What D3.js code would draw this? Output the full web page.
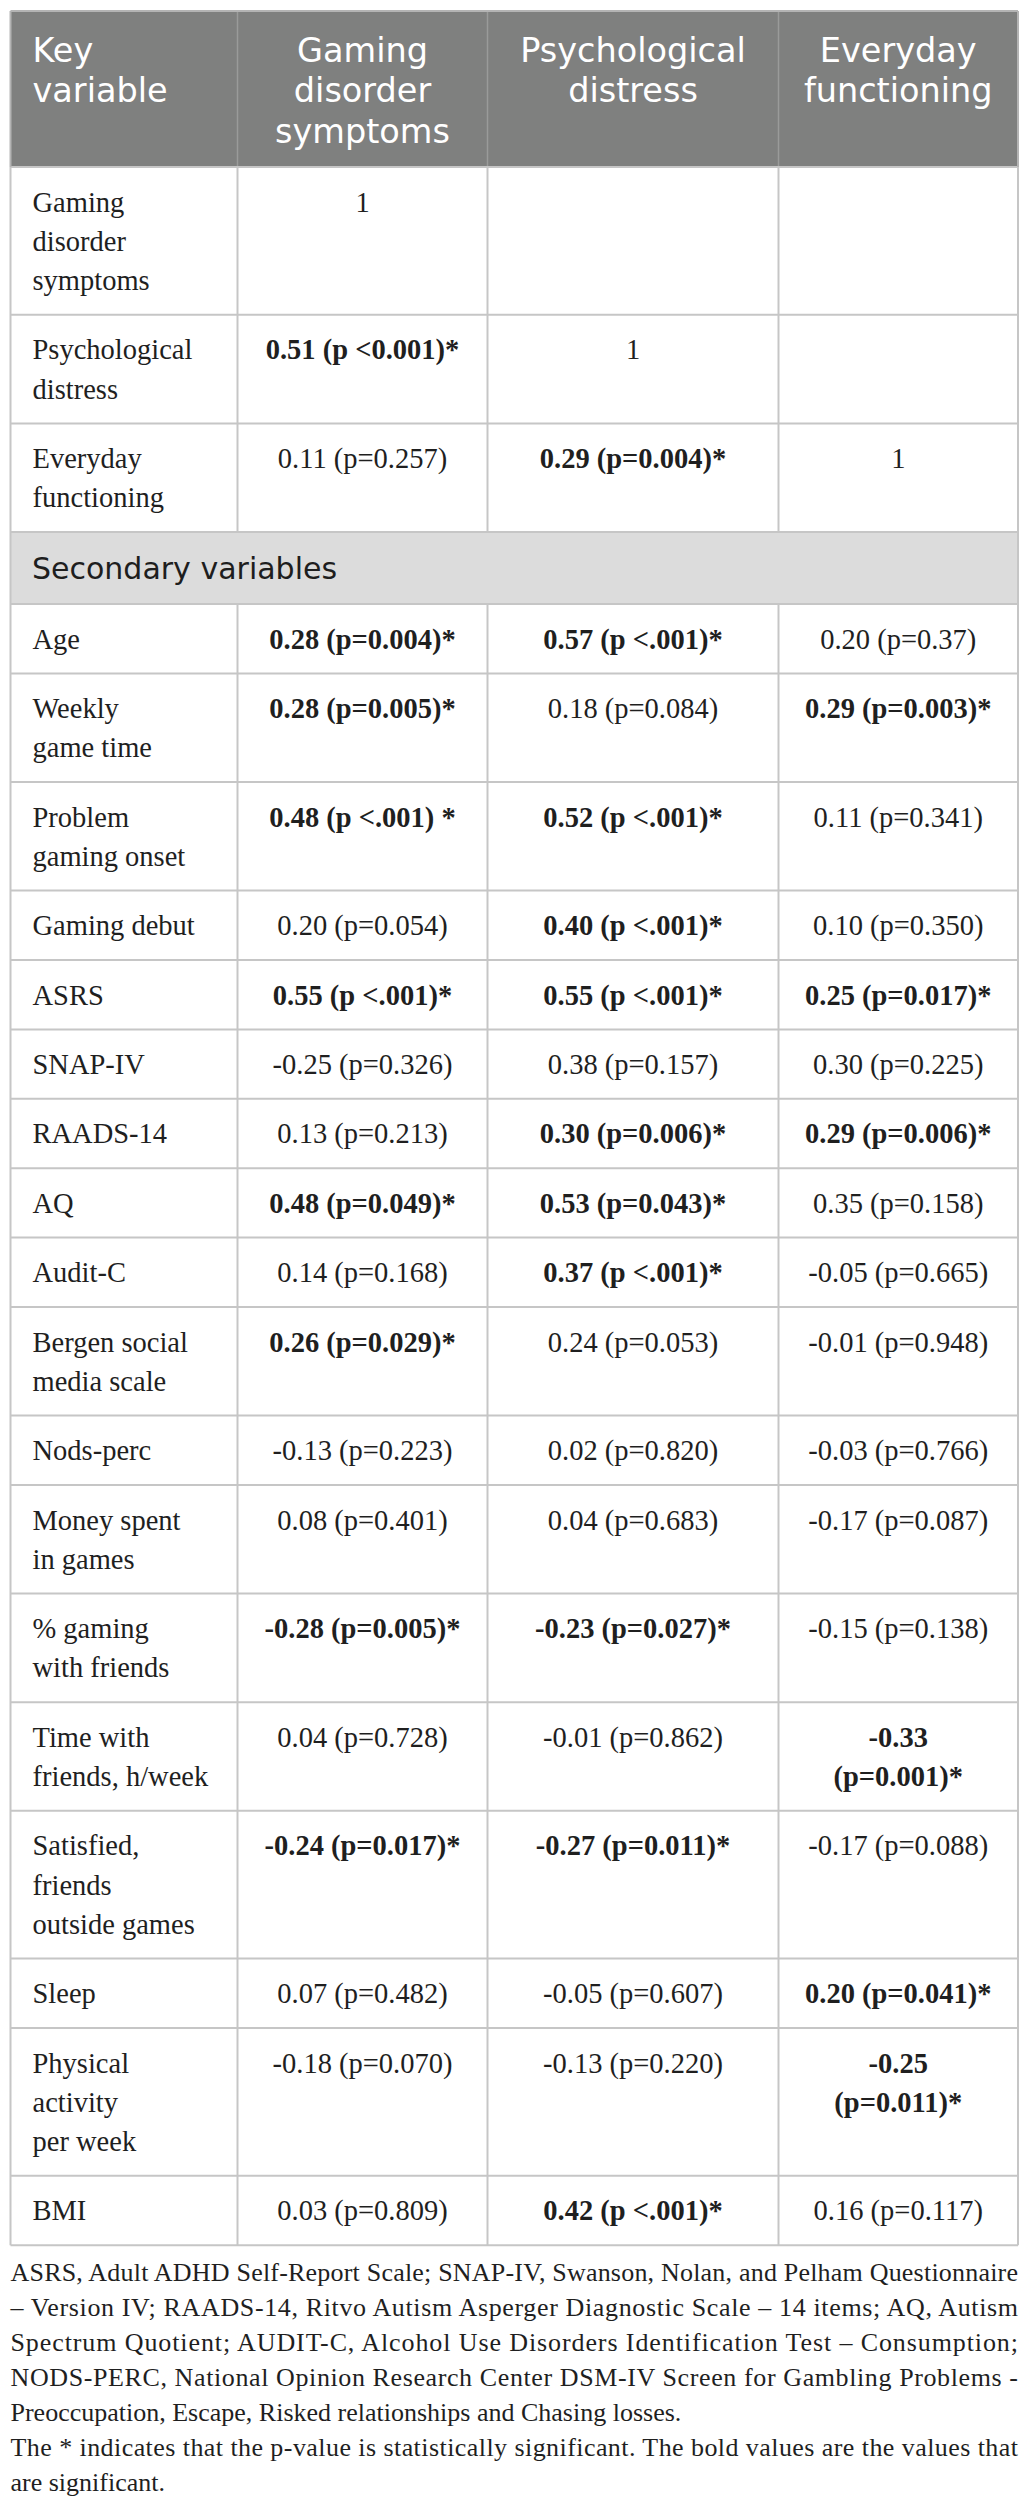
<!DOCTYPE html>
<html>
<head>
<meta charset="utf-8">
<script src="https://cdn.jsdelivr.net/npm/d3@7"></script>
<style>
  html, body { margin: 0; padding: 0; background: #ffffff; }
  svg { display: block; }
</style>
</head>
<body>
<div id="chart"></div>
<script>
// ---------------- DATA ----------------
const columnHeaders = [["Key", "variable"], ["Gaming", "disorder", "symptoms"], ["Psychological", "distress"], ["Everyday", "functioning"]];

const keyVariables = [["Gaming", "disorder", "symptoms"], ["Psychological", "distress"], ["Everyday", "functioning"]];
const keyGaming = ["1", "0.51 (p <0.001)*", "0.11 (p=0.257)"];
const keyDistress = ["", "1", "0.29 (p=0.004)*"];
const keyFunctioning = ["", "", "1"];

const sectionLabel = "Secondary variables";

const secondaryVariables = [
  ["Age"], ["Weekly", "game time"], ["Problem", "gaming onset"], ["Gaming debut"], ["ASRS"],
  ["SNAP-IV"], ["RAADS-14"], ["AQ"], ["Audit-C"], ["Bergen social", "media scale"], ["Nods-perc"],
  ["Money spent", "in games"], ["% gaming", "with friends"], ["Time with", "friends, h/week"],
  ["Satisfied,", "friends", "outside games"], ["Sleep"], ["Physical", "activity", "per week"], ["BMI"]
];
const secGaming = ["0.28 (p=0.004)*", "0.28 (p=0.005)*", "0.48 (p <.001) *", "0.20 (p=0.054)", "0.55 (p <.001)*",
  "-0.25 (p=0.326)", "0.13 (p=0.213)", "0.48 (p=0.049)*", "0.14 (p=0.168)", "0.26 (p=0.029)*", "-0.13 (p=0.223)",
  "0.08 (p=0.401)", "-0.28 (p=0.005)*", "0.04 (p=0.728)", "-0.24 (p=0.017)*", "0.07 (p=0.482)", "-0.18 (p=0.070)", "0.03 (p=0.809)"];
const secDistress = ["0.57 (p <.001)*", "0.18 (p=0.084)", "0.52 (p <.001)*", "0.40 (p <.001)*", "0.55 (p <.001)*",
  "0.38 (p=0.157)", "0.30 (p=0.006)*", "0.53 (p=0.043)*", "0.37 (p <.001)*", "0.24 (p=0.053)", "0.02 (p=0.820)",
  "0.04 (p=0.683)", "-0.23 (p=0.027)*", "-0.01 (p=0.862)", "-0.27 (p=0.011)*", "-0.05 (p=0.607)", "-0.13 (p=0.220)", "0.42 (p <.001)*"];
const secFunctioning = ["0.20 (p=0.37)", "0.29 (p=0.003)*", "0.11 (p=0.341)", "0.10 (p=0.350)", "0.25 (p=0.017)*",
  "0.30 (p=0.225)", "0.29 (p=0.006)*", "0.35 (p=0.158)", "-0.05 (p=0.665)", "-0.01 (p=0.948)", "-0.03 (p=0.766)",
  "-0.17 (p=0.087)", "-0.15 (p=0.138)", "-0.33\n(p=0.001)*", "-0.17 (p=0.088)", "0.20 (p=0.041)*", "-0.25\n(p=0.011)*", "0.16 (p=0.117)"];

const footnoteLines = [
  "ASRS, Adult ADHD Self-Report Scale; SNAP-IV, Swanson, Nolan, and Pelham Questionnaire",
  "\u2013 Version IV; RAADS-14, Ritvo Autism Asperger Diagnostic Scale \u2013 14 items; AQ, Autism",
  "Spectrum Quotient; AUDIT-C, Alcohol Use Disorders Identification Test \u2013 Consumption;",
  "NODS-PERC, National Opinion Research Center DSM-IV Screen for Gambling Problems -",
  "Preoccupation, Escape, Risked relationships and Chasing losses.",
  "The * indicates that the p-value is statistically significant. The bold values are the values that",
  "are significant."
];
const footnoteJustified = [true, true, true, true, false, true, false];

// ---------------- LAYOUT ----------------
const W = 1025, H = 2512;
const tableLeft = 10.5, tableRight = 1018, tableTop = 11;
const colKeys = ["label", "gaming", "distress", "functioning"];
const colEdges = [tableLeft, 237.5, 487.5, 778.5, tableRight];
const headerHeight = 156;
const sectionHeight = 72;
const lineStep = 39.2, rowBase = 30.2;
const serif = "'Liberation Serif', 'Times New Roman', serif";
const sans = "'DejaVu Sans', 'Open Sans', sans-serif";
const bodySize = 28.5;

const xLeft = d3.scaleOrdinal().domain(colKeys).range(colEdges.slice(0, 4));
const xRight = d3.scaleOrdinal().domain(colKeys).range(colEdges.slice(1));
const xCenter = k => (xLeft(k) + xRight(k)) / 2;

// build rows
const rows = [];
keyVariables.forEach((lab, i) => rows.push({ id: "k" + i, type: "data", label: lab, cells: [keyGaming[i], keyDistress[i], keyFunctioning[i]] }));
rows.push({ id: "section", type: "section", label: [sectionLabel] });
secondaryVariables.forEach((lab, i) => rows.push({ id: "s" + i, type: "data", label: lab, cells: [secGaming[i], secDistress[i], secFunctioning[i]] }));

rows.forEach(r => {
  if (r.type === "section") { r.h = sectionHeight; return; }
  const n = Math.max(r.label.length, ...r.cells.map(c => c.split("\n").length));
  r.h = rowBase + lineStep * n;
});
const tops = [];
let acc = tableTop + headerHeight;
rows.forEach(r => { tops.push(acc); acc += r.h; });
const tableBottom = acc;
const yTop = d3.scaleOrdinal().domain(rows.map(r => r.id)).range(tops);

// ---------------- DRAW ----------------
const svg = d3.select("#chart").append("svg").attr("width", W).attr("height", H);
svg.append("rect").attr("width", W).attr("height", H).attr("fill", "#ffffff");

// header
svg.append("rect").attr("x", tableLeft).attr("y", tableTop).attr("width", tableRight - tableLeft)
  .attr("height", headerHeight).attr("fill", "#7f807f");

const headerG = svg.append("g");
colKeys.forEach((k, ci) => {
  const t = headerG.append("text")
    .attr("font-family", sans).attr("font-size", 33.5).attr("fill", "#ffffff")
    .attr("text-anchor", ci === 0 ? "start" : "middle")
    .attr("x", ci === 0 ? xLeft(k) + 22 : xCenter(k));
  columnHeaders[ci].forEach((ln, li) => {
    t.append("tspan").attr("x", ci === 0 ? xLeft(k) + 22 : xCenter(k))
      .attr("y", tableTop + 50.5 + li * 40.5).text(ln);
  });
});

// section background
rows.filter(r => r.type === "section").forEach(r => {
  svg.append("rect").attr("x", tableLeft).attr("y", yTop(r.id)).attr("width", tableRight - tableLeft)
    .attr("height", r.h).attr("fill", "#dcdcdc");
  svg.append("text").attr("x", tableLeft + 21.5).attr("y", yTop(r.id) + 47)
    .attr("font-family", sans).attr("font-size", 30).attr("fill", "#1e1e1e").text(r.label[0]);
});

// grid lines
const gridColor = "#c6c6c6";
const grid = svg.append("g").attr("stroke", gridColor).attr("stroke-width", 2);
// header column separators
colEdges.slice(1, 4).forEach(x => {
  grid.append("line").attr("x1", x).attr("x2", x).attr("y1", tableTop).attr("y2", tableTop + headerHeight)
    .attr("stroke", "#9a9b9a").attr("stroke-width", 1.5);
});
// body vertical separators (skip section row)
rows.forEach(r => {
  if (r.type === "section") return;
  colEdges.slice(1, 4).forEach(x => {
    grid.append("line").attr("x1", x).attr("x2", x).attr("y1", yTop(r.id)).attr("y2", yTop(r.id) + r.h);
  });
});
// horizontal lines
rows.forEach(r => {
  grid.append("line").attr("x1", tableLeft).attr("x2", tableRight).attr("y1", yTop(r.id)).attr("y2", yTop(r.id));
});
grid.append("line").attr("x1", tableLeft).attr("x2", tableRight).attr("y1", tableBottom).attr("y2", tableBottom);
// outer verticals
[tableLeft, tableRight].forEach(x => {
  grid.append("line").attr("x1", x).attr("x2", x).attr("y1", tableTop + headerHeight).attr("y2", tableBottom);
});
// top border
svg.append("line").attr("x1", tableLeft).attr("x2", tableRight).attr("y1", tableTop).attr("y2", tableTop)
  .attr("stroke", "#b4b4b4").attr("stroke-width", 2);
[tableLeft, tableRight].forEach(x => {
  svg.append("line").attr("x1", x).attr("x2", x).attr("y1", tableTop).attr("y2", tableTop + headerHeight)
    .attr("stroke", "#b4b4b4").attr("stroke-width", 2);
});

// cell texts
const body = svg.append("g").attr("font-family", serif).attr("font-size", bodySize).attr("fill", "#1f1f1f");
rows.filter(r => r.type === "data").forEach(r => {
  const y0 = yTop(r.id) + 44.5;
  const lab = body.append("text").attr("x", xLeft("label") + 22);
  r.label.forEach((ln, li) => lab.append("tspan").attr("x", xLeft("label") + 22).attr("y", y0 + li * lineStep).text(ln));
  r.cells.forEach((c, ci) => {
    if (!c) return;
    const k = colKeys[ci + 1];
    const bold = c.indexOf("*") >= 0;
    const t = body.append("text").attr("text-anchor", "middle").attr("x", xCenter(k))
      .attr("font-weight", bold ? "bold" : "normal");
    c.split("\n").forEach((ln, li) => t.append("tspan").attr("x", xCenter(k)).attr("y", y0 + li * lineStep).text(ln));
  });
});

// footnote
const foot = svg.append("g").attr("font-family", serif).attr("font-size", 26).attr("fill", "#1f1f1f");
footnoteLines.forEach((ln, i) => {
  const t = foot.append("text").attr("x", tableLeft).attr("y", tableBottom + 36 + i * 35).text(ln);
  if (footnoteJustified[i]) t.attr("textLength", tableRight - tableLeft).attr("lengthAdjust", "spacing");
});
</script>
</body>
</html>
